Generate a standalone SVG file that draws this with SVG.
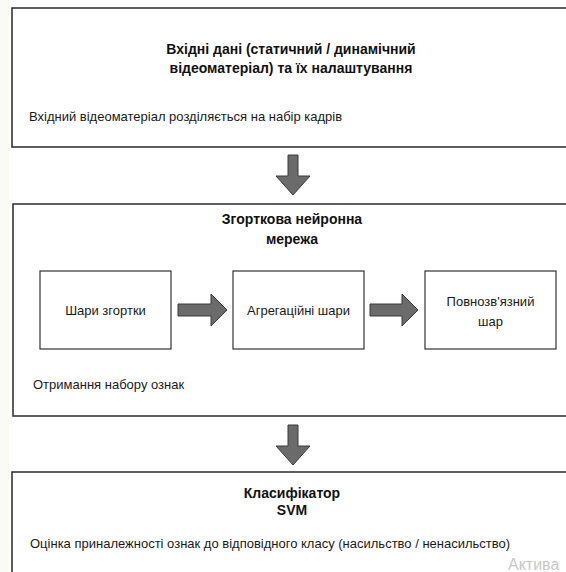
<svg xmlns="http://www.w3.org/2000/svg" width="566" height="572" viewBox="0 0 566 572">
  <style>
    .frame { fill: #ffffff; stroke: #2b2b2b; stroke-width: 1.5; }
    .block { fill: #ffffff; stroke: #333333; stroke-width: 1.2; }
    .arrow { fill: #6b6b6b; stroke: #3a3a3a; stroke-width: 1; stroke-linejoin: miter; }
    .title { font-family: "Liberation Sans", Arial, sans-serif; font-size: 14px; font-weight: bold; fill: #111111; text-anchor: middle; }
    .note { font-family: "Liberation Sans", Arial, sans-serif; font-size: 13px; fill: #1a1a1a; }
    .label { font-family: "Liberation Sans", Arial, sans-serif; font-size: 13px; fill: #1a1a1a; text-anchor: middle; }
    .mark { font-family: "Liberation Sans", Arial, sans-serif; font-size: 16px; fill: #c8c8c8; }
  </style>

  <rect x="0" y="0" width="566" height="572" fill="#ffffff"/>
  <rect x="0" y="0" width="9" height="572" fill="#fbfbf6"/>

  <!-- Stage 1: input data -->
  <g id="input">
    <rect class="frame" x="12" y="8" width="600" height="139"/>
    <text class="title" x="291" y="54">Вхідні дані (статичний / динамічний</text>
    <text class="title" x="291" y="73">відеоматеріал) та їх налаштування</text>
    <text class="note" x="29" y="121">Вхідний відеоматеріал розділяється на набір кадрів</text>
  </g>

  <!-- Stage 2: convolutional network -->
  <g id="cnn">
    <rect class="frame" x="13" y="204" width="600" height="212"/>
    <text class="title" x="292" y="224">Згорткова нейронна</text>
    <text class="title" x="292" y="244">мережа</text>
    <text class="note" x="33" y="389">Отримання набору ознак</text>
  </g>

  <g id="conv-layers">
    <rect class="block" x="40" y="271" width="131" height="78"/>
    <text class="label" x="105.5" y="315">Шари згортки</text>
  </g>

  <g id="pooling-layers">
    <rect class="block" x="233" y="271" width="131" height="78"/>
    <text class="label" x="298.5" y="315">Агрегаційні шари</text>
  </g>

  <g id="dense-layer">
    <rect class="block" x="425" y="271" width="131" height="78"/>
    <text class="label" x="490.5" y="306">Повнозв'язний</text>
    <text class="label" x="490.5" y="326">шар</text>
  </g>

  <!-- Stage 3: classifier -->
  <g id="classifier">
    <rect class="frame" x="12" y="472" width="600" height="120"/>
    <text class="title" x="292" y="498">Класифікатор</text>
    <text class="title" x="292" y="515">SVM</text>
    <text class="note" x="30" y="548">Оцінка приналежності ознак до відповідного класу (насильство / ненасильство)</text>
  </g>

  <!-- Block arrows between stages and layers -->
  <g id="connectors">
    <path class="arrow" d="M288,155 H298 V176 H310 L293,195 L276,176 H288 Z"/>
    <path class="arrow" d="M288,425 H298 V446 H310 L293,465 L276,446 H288 Z"/>
    <path class="arrow" d="M178,304 H211 V294 L227,310 L211,326 V316 H178 Z"/>
    <path class="arrow" d="M370,304 H402 V294 L418,310 L402,326 V316 H370 Z"/>
  </g>

  <text class="mark" x="508" y="570">Актива</text>
</svg>
